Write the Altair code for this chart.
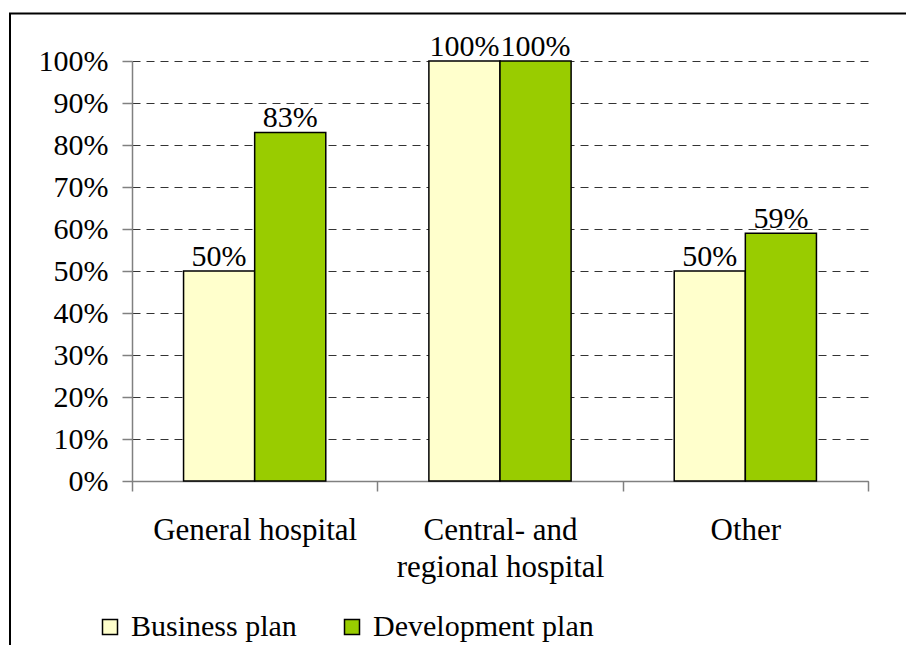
import altair as alt
import pandas as pd

categories = ["General hospital", "Central- and|regional hospital", "Other"]
series = ["Business plan", "Development plan"]
business_plan = [50, 100, 50]
development_plan = [83, 100, 59]
colors = ["#FFFFCC", "#99CC00"]
y_ticks = [0, 10, 20, 30, 40, 50, 60, 70, 80, 90, 100]

rows = []
for c, b, d in zip(categories, business_plan, development_plan):
    rows.append({"category": c, "series": series[0], "value": b / 100})
    rows.append({"category": c, "series": series[1], "value": d / 100})
df = pd.DataFrame(rows)

FONT = "Liberation Serif"
W, H = 736, 420

x = alt.X(
    "category:N",
    sort=categories,
    scale=alt.Scale(paddingInner=0, paddingOuter=0),
    axis=alt.Axis(
        title=None, labelAngle=0, tickBand="extent",
        labelExpr="split(datum.label, '|')",
        labelFont=FONT, labelFontSize=31, labelColor="black", labelLineHeight=37,
        labelPadding=24, labelBaseline="top", labelLimit=0,
        tickSize=10, domainColor="#808080", tickColor="#808080",
        domainWidth=1.5, tickWidth=1.5, grid=False,
    ),
)
xo = alt.XOffset("series:N", sort=series,
                 scale=alt.Scale(paddingInner=0, paddingOuter=0.725))
y = alt.Y(
    "value:Q",
    scale=alt.Scale(domain=[0, 1]),
    axis=alt.Axis(
        title=None, format=".0%", values=[v / 100 for v in y_ticks],
        grid=True, gridDash=[8, 6], gridColor="#333333", gridWidth=1,
        tickSize=10, labelPadding=14, labelFontSize=30, labelFont=FONT,
        labelColor="black", labelLimit=0,
        domainColor="#808080", tickColor="#808080", domainWidth=1.5, tickWidth=1.5,
    ),
)
color = alt.Color(
    "series:N", sort=series,
    scale=alt.Scale(domain=series, range=colors),
    legend=alt.Legend(
        title=None, orient="none", legendX=-37, legendY=551,
        direction="horizontal", symbolType="square", symbolSize=225,
        symbolStrokeColor="black", symbolStrokeWidth=1.5, symbolOpacity=1,
        labelFont=FONT, labelFontSize=30, labelColor="black", labelLimit=0,
        labelOffset=6, columnPadding=40,
    ),
)

bars = alt.Chart(df).mark_bar(stroke="black", strokeWidth=1.5, opacity=1).encode(
    x=x, xOffset=xo, y=y, color=color
)
labels = alt.Chart(df).mark_text(
    baseline="alphabetic", dy=-5, fontSize=30, font=FONT, color="black"
).encode(
    x=x, xOffset=xo, y=y, text=alt.Text("value:Q", format=".0%")
)
border = alt.Chart(pd.DataFrame({"k": [0]})).mark_rect(
    fill="transparent", stroke="black", strokeWidth=2
).encode(
    x=alt.value(-122), x2=alt.value(900), y=alt.value(-47.5), y2=alt.value(700)
)

chart = alt.layer(border, bars, labels).properties(
    width=W, height=H,
    padding={"left": 124, "top": 53, "right": 38, "bottom": 164},
    autosize=alt.AutoSizeParams(type="none"),
).configure(font=FONT).configure_view(stroke=None)

chart.save("out.html", embed_options={"renderer": "svg", "actions": False})
